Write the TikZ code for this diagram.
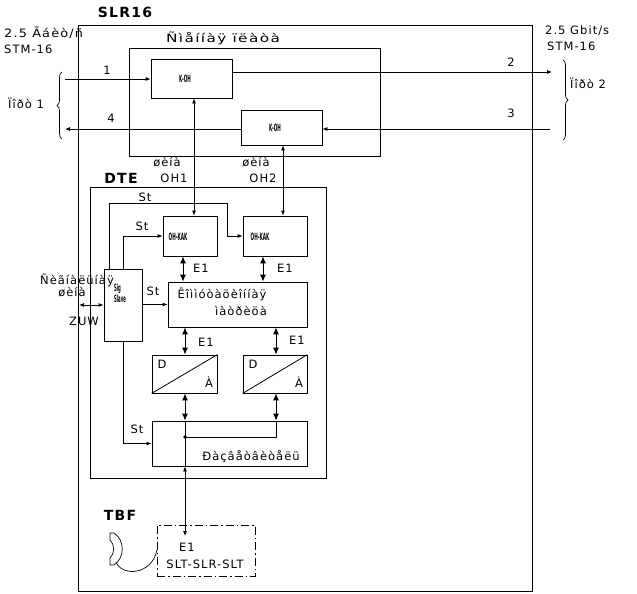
\documentclass[tikz,border=0pt]{standalone}
\usepackage{fontspec}
\setmainfont{DejaVu Sans}[LetterSpace=9]
\newfontfamily\plainfont{DejaVu Sans}
\usetikzlibrary{arrows.meta,decorations.pathreplacing}
\begin{document}
\begin{tikzpicture}[x=1pt,y=-1pt,
  every node/.style={font=\fontsize{11.5}{12}\selectfont, inner sep=0pt},
  box/.style={draw, line width=0.8pt, inner sep=0pt},
  conn/.style={line width=0.8pt},
  arr/.style={conn, -{Latex[length=5pt,width=4pt]}},
  barr/.style={conn, {Latex[length=5pt,width=4pt]}-{Latex[length=5pt,width=4pt]}},
  earr/.style={line width=1pt, {Latex[length=7pt,width=6pt]}-{Latex[length=7pt,width=6pt]}},
  tiny/.style={font=\plainfont\fontsize{10}{9}\selectfont\bfseries},
  lbl/.style={font=\fontsize{11.5}{12}\selectfont},
  ttl/.style={font=\fontsize{14}{14}\selectfont\bfseries}]
\useasboundingbox (0,0) rectangle (637,594);
% boxes
\node[box, minimum width=454, minimum height=566] (outer) at (305,308) {};
\node[box, minimum width=251, minimum height=108] (board) at (254.5,102) {};
\node[box, minimum width=81, minimum height=39] (koh1) at (191.5,78.5) {};
\node[box, minimum width=81, minimum height=35] (koh2) at (281.5,127.5) {};
\node[box, minimum width=236, minimum height=291] (dte) at (208,332.5) {};
\node[box, minimum width=54, minimum height=40] (ohk1) at (190,236) {};
\node[box, minimum width=64, minimum height=40] (ohk2) at (275,236) {};
\node[box, minimum width=38, minimum height=72] (sig) at (123,305) {};
\node[box, minimum width=139, minimum height=45] (matrix) at (237.5,304.5) {};
\node[box, minimum width=65, minimum height=38] (da1) at (184.5,374) {};
\node[box, minimum width=64, minimum height=38] (da2) at (275,374) {};
\node[box, minimum width=155, minimum height=45] (split) at (229.5,443.5) {};
\node[draw, line width=0.8pt, dash pattern=on 8pt off 3pt on 1.5pt off 3pt, minimum width=98, minimum height=51] (tbfbox) at (206,550.5) {};
\draw[conn] (da1.south west) -- (da1.north east);
\draw[conn] (da2.south west) -- (da2.north east);
% box texts
\node[xscale=0.42, tiny] (tk1) at (185,79) {K-OH};
\node[xscale=0.42, tiny] (tk2) at (275,128) {K-OH};
\node[xscale=0.42, tiny] (to1) at (178,237) {OH-KAK};
\node[xscale=0.42, tiny] (to2) at (260,237) {OH-KAK};
\node[xscale=0.38, tiny, align=left] (tsig) at (120,293) {Sig\\Slave};
\node[lbl] (tm1) at (222,294) {Êîììóòàöèîííàÿ};
\node[lbl] (tm2) at (241,311) {ìàòðèöà};
\node[lbl] (tsp) at (251,457) {Ðàçâåòâèòåëü};
\node[lbl] (d1) at (162,364) {D};
\node[lbl] (a1) at (209,382) {À};
\node[lbl] (d2) at (253,364) {D};
\node[lbl] (a2) at (299,382) {À};
\node[lbl] (te1) at (187,547) {E1};
\node[lbl] (tslt) at (205,564) {SLT-SLR-SLT};
% titles and labels
\node[ttl] (tslr) at (125,12) {SLR16};
\node[ttl] (tdte) at (121,178) {DTE};
\node[ttl] (ttbf) at (120,515) {TBF};
\node[lbl, xscale=1.33] (tboard) at (223,38) {Ñìåííàÿ ïëàòà};
\node[lbl, anchor=west, xscale=1.12] (tl1) at (4,33) {2.5 Ãáèò/ñ};
\node[lbl, anchor=west] (tl2) at (4,49) {STM-16};
\node[lbl, anchor=west] (tr1) at (545,31) {2.5 Gbit/s};
\node[lbl, anchor=west] (tr2) at (547,46) {STM-16};
\node[lbl] (n1) at (107,70) {1};
\node[lbl] (n2) at (511,62) {2};
\node[lbl] (n3) at (511,113) {3};
\node[lbl] (n4) at (111,118) {4};
\node[lbl] (port1) at (26,103) {Ïîðò 1};
\node[lbl] (port2) at (588,83) {Ïîðò 2};
\node[lbl] (sh1) at (167,162) {øèíà};
\node[lbl] (oh1) at (174,178) {OH1};
\node[lbl] (sh2) at (256,162) {øèíà};
\node[lbl] (oh2) at (263,178) {OH2};
\node[lbl] (st1) at (145,197) {St};
\node[lbl] (st2) at (142,226) {St};
\node[lbl] (st3) at (153,291) {St};
\node[lbl] (st4) at (137,429) {St};
\node[lbl] (e1a) at (201,268) {E1};
\node[lbl] (e1b) at (285,268) {E1};
\node[lbl] (e1c) at (206,342) {E1};
\node[lbl] (e1d) at (297,340) {E1};
\node[lbl] (sb1) at (77,280) {Ñèãíàëüíàÿ};
\node[lbl] (sb2) at (72,292) {øèíà};
\node[lbl] (zuw) at (84,321) {ZUW};
% coordinates
\coordinate (p1) at (65,79);
\coordinate (p2) at (552,72);
\coordinate (p3) at (550,129);
\coordinate (p4) at (65,129);
\coordinate (xo1) at (194,0);
\coordinate (xo2) at (283,0);
\coordinate (xs1) at (109,0);
\coordinate (xs2) at (123,0);
\coordinate (xe1) at (183,0);
\coordinate (xe2) at (263,0);
\coordinate (xd1) at (185,0);
\coordinate (xd2) at (276,0);
\coordinate (stc) at (227,203);
\coordinate (dot) at (185,437);
\coordinate (e1in) at (185,536);
\coordinate (zl) at (79,305);
% line connectors
\draw[arr] (p1) -- (p1 -| koh1.west);
\draw[arr] (p2 -| koh1.east) -- (p2);
\draw[arr] (p3) -- (p3 -| koh2.east);
\draw[arr] (p4 -| koh2.west) -- (p4);
\draw[barr] (koh1.south -| xo1) -- (ohk1.north -| xo1);
\draw[barr] (koh2.south -| xo2) -- (ohk2.north -| xo2);
\draw[arr] (sig.north -| xs1) |- (stc) |- (ohk2.west);
\draw[arr] (sig.north -| xs2) |- (ohk1.west);
\draw[arr] (sig.east |- matrix.west) -- (matrix.west);
\draw[arr] (sig.south) |- (split.west);
\draw[barr] (zl) -- (zl -| sig.west);
\draw[earr] (ohk1.south -| xe1) -- (matrix.north -| xe1);
\draw[earr] (ohk2.south -| xe2) -- (matrix.north -| xe2);
\draw[earr] (matrix.south -| xd1) -- (da1.north -| xd1);
\draw[earr] (matrix.south -| xd2) -- (da2.north -| xd2);
\draw[earr] (da1.south -| xd1) -- (split.north -| xd1);
\draw[earr] (da2.south -| xd2) -- (split.north -| xd2);
\draw[conn] (split.north -| xd1) -- (split.south -| xd1);
\draw[conn] (dot) -| (split.north -| xd2);
\fill (dot) circle (1.8pt);
\draw[barr] (split.south -| xd1) -- (e1in);
% braces
\draw[line width=0.7pt, decorate, decoration={brace, amplitude=5pt}] (62,139) -- (62,72);
\draw[line width=0.7pt, decorate, decoration={brace, amplitude=5pt}] (563,60) -- (563,140);
% TBF connector
\draw[line width=0.7pt] (110,533) -- (114,533) .. controls (125,540) and (125,558) .. (114,565) -- (110,565)
  -- (110,558) .. controls (115,552) and (115,546) .. (110,540) -- cycle;
\draw[line width=0.7pt] (116,562) .. controls (122,577) and (152,575) .. (157,550);
\end{tikzpicture}
\end{document}
